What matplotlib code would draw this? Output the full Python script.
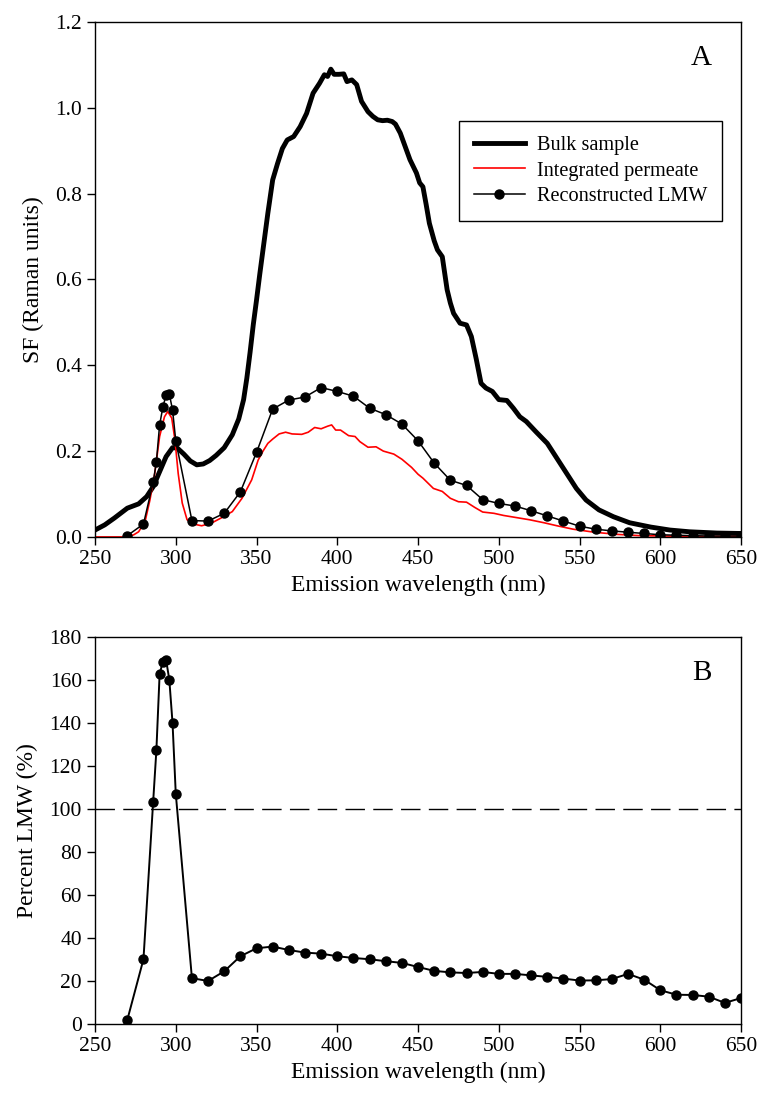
import matplotlib
matplotlib.use("Agg")
import matplotlib.pyplot as plt
import numpy as np

plt.rcParams['font.family'] = ['Liberation Serif', 'DejaVu Serif']
plt.rcParams['font.size'] = 15

# Panel A: bulk sample (thick black)
bulk_x = [250, 256, 262, 270, 277, 282, 286, 290, 294, 298, 301, 305, 309, 313, 317,
          321, 325, 330, 335, 339, 342, 344, 346, 348, 350, 352, 354, 357, 360, 363,
          366, 369, 373, 377, 381, 385, 389, 392, 394, 396, 398, 401, 404, 406, 409,
          412, 415, 419, 422, 425, 428, 431, 434, 436, 439, 442, 445, 449, 451, 453,
          455, 457, 460, 462, 465, 468, 470, 472, 476, 480, 483, 486, 489, 492, 496,
          500, 505, 509, 513, 517, 523, 530, 536, 542, 548, 554, 562, 571, 581, 594,
          606, 618, 635, 650]
bulk_y = [0.016, 0.028, 0.044, 0.067, 0.077, 0.094, 0.117, 0.152, 0.187, 0.208, 0.207,
          0.193, 0.177, 0.168, 0.170, 0.178, 0.190, 0.208, 0.238, 0.275, 0.320, 0.370,
          0.430, 0.495, 0.552, 0.612, 0.669, 0.754, 0.832, 0.870, 0.905, 0.925, 0.933,
          0.956, 0.987, 1.034, 1.057, 1.077, 1.073, 1.090, 1.078, 1.078, 1.079, 1.061,
          1.065, 1.054, 1.015, 0.991, 0.980, 0.972, 0.970, 0.971, 0.968, 0.962, 0.941,
          0.910, 0.879, 0.848, 0.825, 0.816, 0.775, 0.731, 0.690, 0.669, 0.653, 0.576,
          0.545, 0.521, 0.498, 0.494, 0.467, 0.415, 0.358, 0.347, 0.339, 0.320, 0.318,
          0.300, 0.280, 0.269, 0.245, 0.218, 0.183, 0.148, 0.113, 0.086, 0.063, 0.047,
          0.033, 0.023, 0.016, 0.012, 0.009, 0.008]

# Panel A: integrated permeate (red)
perm_x = [250, 262, 270, 274, 277, 281, 284, 287, 290, 293, 295, 297.5, 299.5, 301.5,
          304, 307, 311, 316, 322, 328, 335, 341, 347, 351, 354, 357, 360, 364, 368,
          372, 378, 382, 386, 390, 394, 396.5, 399, 402, 407, 411, 414, 419, 424, 428.5,
          435, 440, 446, 450, 453, 459.5, 465, 470, 475, 480, 485, 490, 497, 503, 511,
          519, 528, 536, 546, 559, 573, 587, 604, 620, 650]
perm_y = [0.0, 0.0, 0.0, 0.005, 0.012, 0.036, 0.086, 0.148, 0.234, 0.280, 0.292, 0.277,
          0.226, 0.148, 0.079, 0.040, 0.030, 0.026, 0.032, 0.044, 0.059, 0.090, 0.133,
          0.179, 0.200, 0.218, 0.228, 0.240, 0.244, 0.240, 0.239, 0.244, 0.255, 0.252,
          0.258, 0.261, 0.249, 0.249, 0.236, 0.234, 0.222, 0.209, 0.210, 0.200, 0.193,
          0.181, 0.162, 0.146, 0.137, 0.113, 0.106, 0.090, 0.082, 0.081, 0.069, 0.058,
          0.055, 0.050, 0.045, 0.040, 0.033, 0.026, 0.018, 0.011, 0.006, 0.003, 0.002,
          0.001, 0.001]

# Reconstructed LMW (both panels share wavelengths)
lmw_x = [270, 280, 286, 288, 290, 292, 294, 296, 298, 300] + list(range(310, 651, 10))
lmw_y = [0.003, 0.030, 0.127, 0.175, 0.261, 0.302, 0.331, 0.333, 0.296, 0.224,
         0.038, 0.037, 0.055, 0.105, 0.197, 0.298, 0.319, 0.326, 0.348, 0.339,
         0.328, 0.300, 0.285, 0.263, 0.224, 0.172, 0.132, 0.120, 0.087, 0.078,
         0.072, 0.061, 0.049, 0.037, 0.025, 0.018, 0.014, 0.011, 0.008, 0.005,
         0.004, 0.003, 0.002, 0.002, 0.002]
pct_lmw = [1.9, 30.1, 103.3, 127.3, 162.6, 168.5, 169.3, 160.1, 139.9, 107.1,
           21.3, 20.0, 24.5, 31.5, 35.2, 36.0, 34.4, 33.2, 32.7, 31.5,
           30.7, 30.1, 29.2, 28.4, 26.5, 24.7, 24.0, 23.7, 24.2, 23.3,
           23.3, 22.6, 21.9, 21.1, 20.2, 20.3, 20.9, 23.3, 20.6, 15.7,
           13.6, 13.5, 12.7, 9.8, 12.1]

fig = plt.figure(figsize=(7.57, 10.98), dpi=100)
axA = fig.add_axes([0.1255, 0.511, 0.8535, 0.469])
axB = fig.add_axes([0.1255, 0.0674, 0.8535, 0.3526])

axA.plot(bulk_x, bulk_y, color="black", lw=3.5, label="Bulk sample", solid_joinstyle="round")
axA.plot(perm_x, perm_y, color="red", lw=1.2, label="Integrated permeate")
axA.plot(lmw_x, lmw_y, color="black", lw=1.1, marker="o", ms=6.5, label="Reconstructed LMW")
axA.set_xlim(250, 650)
axA.set_ylim(0, 1.2)
axA.set_xticks(np.arange(250, 651, 50))
axA.set_yticks(np.arange(0, 1.21, 0.2))
axA.set_yticklabels([f"{v:.1f}" for v in np.arange(0, 1.21, 0.2)])
axA.set_xlabel("Emission wavelength (nm)", fontsize=17, labelpad=4)
axA.set_ylabel("SF (Raman units)", fontsize=17, labelpad=8)
axA.text(0.955, 0.955, "A", transform=axA.transAxes, ha="right", va="top", fontsize=21)
leg = axA.legend(loc="upper right", bbox_to_anchor=(0.971, 0.808), fancybox=False,
                 edgecolor="black", framealpha=1, fontsize=14.6, handlelength=2.5,
                 borderpad=0.75, labelspacing=0.3, handletextpad=0.6,
                 borderaxespad=0)
leg.get_frame().set_linewidth(1.0)

axB.plot(lmw_x, pct_lmw, color="black", lw=1.4, marker="o", ms=6.5)
axB.axhline(100, color="black", lw=1.0, dashes=(14, 6))
axB.set_xlim(250, 650)
axB.set_ylim(0, 180)
axB.set_xticks(np.arange(250, 651, 50))
axB.set_yticks(np.arange(0, 181, 20))
axB.set_xlabel("Emission wavelength (nm)", fontsize=17, labelpad=4)
axB.set_ylabel("Percent LMW (%)", fontsize=17, labelpad=8)
axB.text(0.955, 0.94, "B", transform=axB.transAxes, ha="right", va="top", fontsize=21)

for ax in (axA, axB):
    ax.tick_params(direction="out", length=6, width=1, labelsize=15.5)
    for s in ax.spines.values():
        s.set_linewidth(1.0)

fig.savefig("out.png", dpi=100)
